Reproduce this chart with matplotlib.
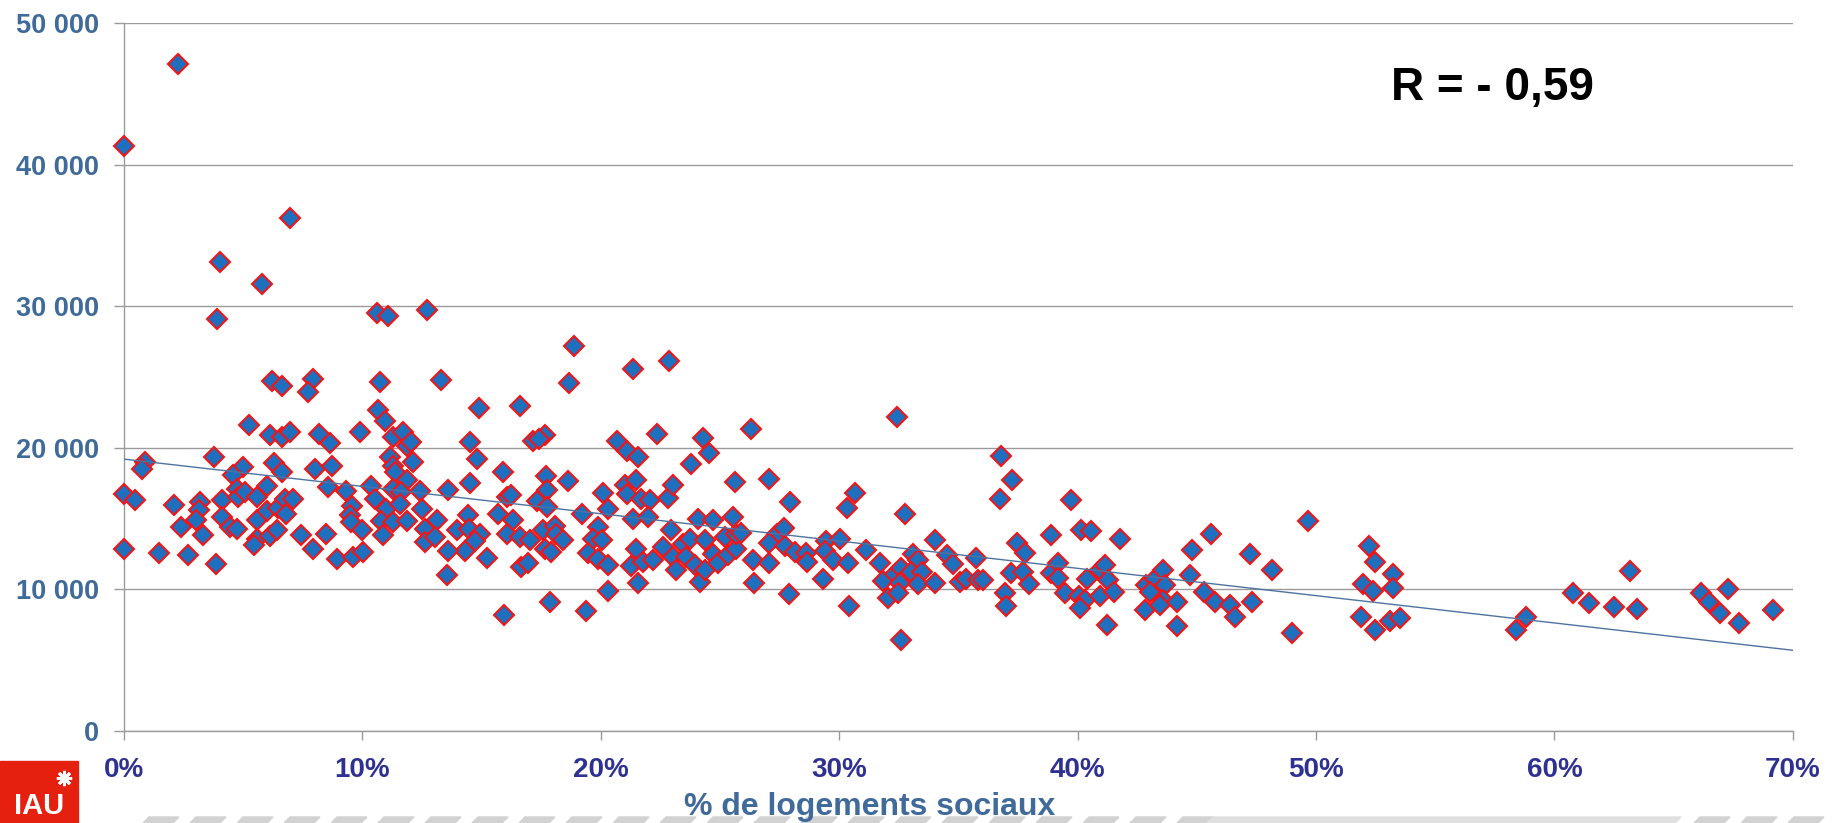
import numpy as np
import matplotlib.pyplot as plt
from matplotlib.patches import Rectangle, Polygon
from matplotlib.lines import Line2D

# % de logements sociaux (x) et valeur (y)
part_sociaux = [
    0.0, 2.26, 6.96, 4.02, 5.79,
    3.91, 10.6, 11.08, 12.7,
    6.22, 6.64, 7.91, 7.73, 10.73,
    5.26, 6.12, 6.61, 6.96, 8.19, 8.64, 9.9, 10.66, 10.94, 11.29, 11.71, 11.89, 12.05,
    0.88, 0.74, 3.77, 5.0, 4.56, 6.3, 6.64, 8.0, 8.74, 8.54, 9.31, 10.36, 10.52, 11.15,
    11.29, 11.36, 11.85, 12.13, 11.29, 11.64, 12.41,
    0.0, 0.46, 2.11, 3.19, 3.16, 3.02, 2.39, 3.33, 4.12, 4.12, 4.72, 4.79, 5.07, 4.44,
    4.72, 5.56, 5.98, 5.56, 5.98, 6.47, 6.75, 7.1, 6.79, 5.56, 5.46, 6.12, 6.43, 7.42,
    7.91, 8.47, 8.92, 9.62, 10.03, 9.55, 9.5, 9.52, 9.99, 11.01, 10.8, 11.27, 11.57,
    11.89, 10.87, 12.48, 12.62, 12.62, 0.0, 1.47, 2.67, 3.84,
    18.88, 21.35, 22.86, 13.28, 18.67, 14.88, 16.63, 14.53, 14.81, 17.16, 17.65, 17.4,
    20.66, 21.1, 21.56, 22.36, 24.29, 24.53, 23.8, 15.9, 14.5, 13.57, 17.68, 18.63,
    16.07, 16.25, 17.33, 17.76, 17.76, 20.1, 20.31, 19.22, 21.01, 21.47, 21.08, 21.7,
    22.05, 22.82, 23.03, 25.62,
    13.11, 13.04, 13.95, 14.44, 14.48, 14.93, 14.72, 14.3, 13.6, 13.53, 15.21, 15.69,
    16.32, 16.07, 16.63, 17.02, 16.67, 16.95, 17.58, 18.07, 18.14, 18.42, 17.65, 17.93,
    15.93, 17.86, 19.36, 20.31, 19.89, 19.68, 20.03, 19.47, 19.89, 20.31, 21.26, 21.56,
    21.49, 21.77, 21.36, 21.98, 22.19, 22.61, 23.03, 23.17, 22.96, 23.45, 23.73, 23.59,
    24.08, 24.71, 24.36, 23.94, 24.15, 24.36, 24.71, 24.92, 25.2, 25.55, 25.34, 25.69, 25.69,
    26.29, 32.43, 27.06, 27.93, 30.65, 30.34, 32.75, 36.8, 37.26, 36.76, 38.87, 25.9,
    27.37, 27.69, 27.06, 27.72, 28.14, 28.62, 28.65, 26.39, 27.06, 26.42, 27.9, 29.46,
    30.02, 29.39, 29.74, 30.37, 29.32, 30.4, 31.14, 31.73, 31.84, 32.05, 32.33, 32.61,
    32.54, 32.47, 33.1, 33.31, 33.03, 33.49, 33.31, 32.58, 34.0, 34.03, 34.52, 34.77,
    35.72, 35.05, 35.33, 35.82, 36.03, 37.22, 37.46, 37.78, 37.71, 37.95, 36.94, 36.98,
    38.9, 39.18, 39.18,
    39.71, 40.13, 40.58, 41.79, 39.46, 40.06, 40.3, 40.09, 40.4, 40.93, 41.14, 41.28,
    40.95, 41.51, 41.23, 42.81, 42.88, 43.23, 43.58, 43.65, 43.02, 43.58, 43.44, 44.17,
    44.17, 44.8, 45.61, 44.73, 45.29, 45.75, 46.38, 46.61, 47.22, 47.31, 48.17, 49.0,
    49.66, 52.2, 52.46, 51.97, 52.39, 53.23, 53.23, 51.87, 52.46, 53.09, 53.53,
    58.39, 58.79, 60.77, 61.44, 62.48, 63.17, 63.48, 66.15, 66.47, 66.96, 67.28, 67.72, 69.16,
]
valeur = [
    41300, 47100, 36200, 33100, 31550,
    29060, 29530, 29300, 29700,
    24720, 24370, 24840, 23970, 24650,
    21600, 20900, 20740, 21140, 20970, 20310, 21140, 22680, 21860, 20780, 21090, 20150, 20400,
    18980, 18510, 19330, 18630, 18090, 18930, 18280, 18510, 18700, 17220, 16940, 17270, 16350, 19330,
    18740, 18280, 17690, 18980, 17100, 16870, 16940,
    16750, 16280, 15930, 16160, 15620, 14870, 14400, 13820, 16280, 15110, 17100, 16520, 16870, 14400,
    14280, 16520, 17290, 14870, 15530, 15760, 16400, 16400, 15300, 13590, 13160, 13770, 14220, 13820,
    12880, 13940, 12180, 12300, 12650, 15860, 15230, 14760, 14170, 15650, 14800, 14750, 16050,
    14830, 13820, 15700, 14290, 13350, 12880, 12580, 12410, 11760,
    27190, 25590, 26130, 24790, 24560, 22800, 22960, 20380, 19210, 20500, 20900, 20620,
    20500, 19750, 19380, 20970, 20670, 19610, 18860, 18320, 17500, 17030, 18040, 17620,
    16520, 16700, 16210, 16990, 15810, 16820, 15700, 15340, 17380, 17690, 16750, 16400,
    16280, 16450, 17340, 17570,
    14870, 13700, 14170, 15280, 14290, 13940, 13420, 12720, 12720, 11050, 12220, 15340,
    14870, 13940, 13700, 13470, 11590, 11830, 14170, 14450, 13940, 13470, 12880, 12650,
    8190, 9080, 8500, 9880, 14410, 13590, 13470, 12580, 12180, 11710, 11640, 10420,
    12880, 11900, 14990, 15110, 12110, 13000, 12300, 11360, 14170, 13230, 13590, 12300,
    14990, 14920, 13470, 11710, 10540, 11400, 12530, 11830, 13700, 15110, 12410, 12880, 13940,
    21300, 22200, 17830, 16170, 16810, 15740, 15320, 19410, 17710, 16380, 13850, 13970,
    13920, 14330, 13260, 13070, 12670, 12600, 11960, 12080, 11840, 10430, 9650, 13450,
    13550, 12740, 12080, 11890, 10730, 8820, 12790, 11840, 10620, 9360, 11090, 11490,
    10430, 9720, 12510, 12080, 11250, 11250, 10380, 6450, 10470, 13500, 12440, 11800,
    12200, 10540, 10710, 10660, 10660, 11130, 13310, 12550, 11250, 10380, 9720, 8820,
    11130, 11890, 10780,
    16330, 14210, 14120, 13580, 9740, 9500, 9220, 8710, 10750, 11340, 11690, 10640,
    9500, 9810, 7460, 8520, 10280, 10750, 11340, 10280, 9810, 9270, 8870, 9110,
    7410, 12800, 13930, 10990, 9810, 9110, 8870, 8050, 12520, 9110, 11390, 6920,
    14830, 13060, 11930, 10350, 9880, 11060, 10120, 8050, 7100, 7760, 8000,
    7130, 8020, 9760, 9010, 8780, 11320, 8610, 9720, 9080, 8310, 10000, 7600, 8540,
]

# droite de tendance (extrémités lues)
tendance_x = [0, 70]
tendance_y = [19200, 5700]

x_ticks = [0, 10, 20, 30, 40, 50, 60, 70]
x_labels = ['0%', '10%', '20%', '30%', '40%', '50%', '60%', '70%']
y_ticks = [0, 10000, 20000, 30000, 40000, 50000]
y_labels = ['0', '10 000', '20 000', '30 000', '40 000', '50 000']

plt.rcParams['font.family'] = ['Liberation Sans', 'DejaVu Sans']

fig = plt.figure(figsize=(18.34, 8.23), dpi=100)
ax = fig.add_axes([0.0676, 0.1118, 0.9100, 0.8603])

ax.yaxis.grid(True, color='#9a9a9a', lw=1.0, zorder=0)
ax.set_axisbelow(True)
ax.plot(part_sociaux, valeur, ls='none', marker='D', ms=10.2, mfc='#1f6fbf',
        mec='#f41414', mew=1.5, clip_on=False, zorder=3)
ax.plot(tendance_x, tendance_y, color='#4f73a0', lw=1.0, zorder=4)

ax.set_xlim(0, 70)
ax.set_ylim(0, 50000)
ax.set_xticks(x_ticks)
ax.set_xticklabels(x_labels)
ax.set_yticks(y_ticks)
ax.set_yticklabels(y_labels)

for s in ['top', 'right']:
    ax.spines[s].set_visible(False)
for s in ['left', 'bottom']:
    ax.spines[s].set_color('#9a9a9a')
    ax.spines[s].set_linewidth(1.0)

ax.tick_params(axis='x', direction='out', length=6.5, width=1.0, color='#9a9a9a',
               pad=12, labelsize=20, labelcolor='#2f3192')
ax.tick_params(axis='y', direction='out', length=7, width=1.0, color='#9a9a9a',
               pad=11, labelsize=19.5, labelcolor='#3f6a9a')
for lab in ax.get_xticklabels() + ax.get_yticklabels():
    lab.set_fontweight('bold')

fig.text(0.4744, 0.0097, '% de logements sociaux', ha='center', va='baseline',
         fontsize=23, fontweight='bold', color='#3f6a9a')
fig.text(0.7583, 0.8785, 'R = - 0,59', ha='left', va='baseline',
         fontsize=33, fontweight='bold', color='black')

# logo IAU et bandeau du bas
fig.patches.append(Rectangle((0, 0), 78 / 1834, 62 / 823, transform=fig.transFigure,
                             color='#e5200f', zorder=1))
fig.add_artist(Line2D([64 / 1834], [1 - 778 / 823], marker=(8, 2, 0), ms=11, mew=2,
                      color='white', transform=fig.transFigure))
fig.text(39 / 1834, 3 / 823, 'IAU', ha='center', va='bottom', fontsize=21,
         fontweight='bold', color='white')

gris = '#d2d2d2'
x0 = 135
while x0 < 1834:
    if 1190 < x0 < 1680:
        x0 += 47
        continue
    pts = [(x0 + 8, 823), (x0 + 38, 823), (x0 + 44, 817), (x0 + 14, 817)]
    fig.patches.append(Polygon([(px / 1834, 1 - py / 823) for px, py in pts],
                               closed=True, transform=fig.transFigure, color=gris))
    x0 += 47
fig.patches.append(Polygon([(1207 / 1834, 0), (1675 / 1834, 0), (1681 / 1834, 6 / 823),
                            (1213 / 1834, 6 / 823)], closed=True,
                           transform=fig.transFigure, color='#e0e0e0'))

plt.savefig('out.png', dpi=100)
